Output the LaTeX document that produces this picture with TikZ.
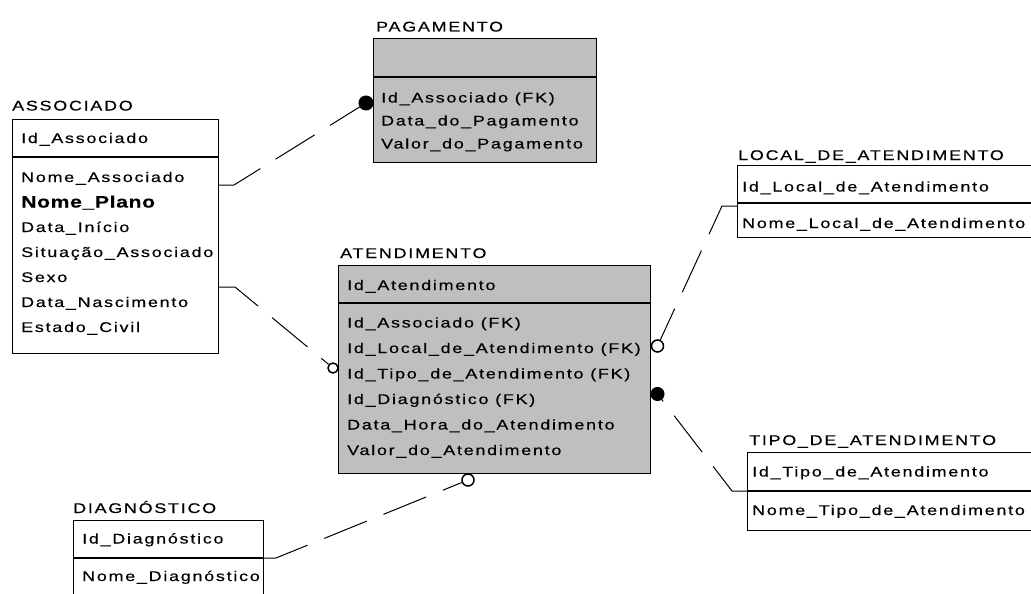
\documentclass[tikz,border=0pt]{standalone}
\usepackage{fontspec}
\setmainfont{Liberation Sans}[FakeStretch=1.28, LetterSpace=12.5, FakeBold=0.4]
\begin{document}
\begin{tikzpicture}[x=1pt, y=-1pt,
  every node/.style={font=\fontsize{14pt}{16pt}\selectfont, inner sep=0pt},
  entity/.style={draw, line width=1pt, anchor=north west},
  keyed/.style={entity, fill=black!25},
  divider/.style={line width=1.6pt},
  attr/.style={anchor=base west},
  title/.style={anchor=base west},
  rel/.style={line width=1pt, dash pattern=on 46pt off 18pt},
  opt/.style={draw, circle, line width=1.5pt, fill=white, minimum size=#1},
  mand/.style={draw, circle, line width=1pt, fill=black, minimum size=#1}
]
\useasboundingbox (0,0) rectangle (1031,594);
\clip (0,0) rectangle (1031,594);

% ASSOCIADO
\node[title] (tassoc) at (12,110.5) {ASSOCIADO};
\node[entity, minimum width=206pt, minimum height=234pt] (assoc) at (12,119) {};
\draw[divider] (assoc.west |- 0,157) -- (assoc.east |- 0,157);
\node[attr] (a0) at (21,143) {Id\_Associado};
\node[attr] (a1) at (21,182) {Nome\_Associado};
\node[attr, font=\fontsize{16.5pt}{19pt}\selectfont\bfseries\addfontfeature{LetterSpace=4}] (a2) at (21,207.5) {Nome\_Plano};
\node[attr] (a3) at (21,232) {Data\_Início};
\node[attr] (a4) at (21,257) {Situação\_Associado};
\node[attr] (a5) at (21,282) {Sexo};
\node[attr] (a6) at (21,307) {Data\_Nascimento};
\node[attr] (a7) at (21,332) {Estado\_Civil};

% PAGAMENTO
\node[title] (tpag) at (376,31.5) {PAGAMENTO};
\node[keyed, minimum width=223pt, minimum height=124pt] (pag) at (373,38) {};
\draw[divider] (pag.west |- 0,77) -- (pag.east |- 0,77);
\node[attr] (p1) at (381,102.5) {Id\_Associado (FK)};
\node[attr] (p2) at (381,125.5) {Data\_do\_Pagamento};
\node[attr] (p3) at (381,148.5) {Valor\_do\_Pagamento};

% ATENDIMENTO
\node[title] (tat) at (340,258) {ATENDIMENTO};
\node[keyed, minimum width=312pt, minimum height=208pt] (at) at (338,265) {};
\draw[divider] (at.west |- 0,303) -- (at.east |- 0,303);
\node[attr] (t0) at (347,290) {Id\_Atendimento};
\node[attr] (t1) at (347,327.5) {Id\_Associado (FK)};
\node[attr] (t2) at (347,353) {Id\_Local\_de\_Atendimento (FK)};
\node[attr] (t3) at (347,378.5) {Id\_Tipo\_de\_Atendimento (FK)};
\node[attr] (t4) at (347,404) {Id\_Diagnóstico (FK)};
\node[attr] (t5) at (347,429.5) {Data\_Hora\_do\_Atendimento};
\node[attr] (t6) at (347,455) {Valor\_do\_Atendimento};

% LOCAL_DE_ATENDIMENTO
\node[title] (tloc) at (738,160) {LOCAL\_DE\_ATENDIMENTO};
\node[entity, minimum width=310pt, minimum height=72pt] (loc) at (737,165) {};
\draw[divider] (loc.west |- 0,203) -- (loc.east |- 0,203);
\node[attr] (l0) at (742,191.5) {Id\_Local\_de\_Atendimento};
\node[attr] (l1) at (742,228) {Nome\_Local\_de\_Atendimento};

% TIPO_DE_ATENDIMENTO
\node[title] (ttipo) at (749,445) {TIPO\_DE\_ATENDIMENTO};
\node[entity, minimum width=300pt, minimum height=78pt] (tipo) at (747,452) {};
\draw[divider] (tipo.west |- 0,491) -- (tipo.east |- 0,491);
\node[attr] (s0) at (752,476.5) {Id\_Tipo\_de\_Atendimento};
\node[attr] (s1) at (752,515) {Nome\_Tipo\_de\_Atendimento};

% DIAGNÓSTICO
\node[title] (tdiag) at (73,513) {DIAGNÓSTICO};
\node[entity, minimum width=190pt, minimum height=100pt] (diag) at (73,520) {};
\draw[divider] (diag.west |- 0,558) -- (diag.east |- 0,558);
\node[attr] (d0) at (82,543.5) {Id\_Diagnóstico};
\node[attr] (d1) at (82,581) {Nome\_Diagnóstico};

% relationship ends
\node[mand=14pt] (pagend) at (366,103) {};
\node[opt=10pt] (atleft) at (333,368) {};
\node[opt=12pt] (atloc) at (657.5,346) {};
\node[mand=13pt] (attipo) at (657.5,394) {};
\node[opt=12pt] (atdiag) at (468,480) {};

% relationships
\coordinate (c1) at (assoc.east |- 0,185);
\coordinate (c2) at (assoc.east |- 0,287);
\coordinate (c3) at (loc.west |- 0,206);
\coordinate (c4) at (tipo.west |- 0,491);
\coordinate (c5) at (diag.east |- 0,558);
\draw[rel] (c1) -- ++(15,0) -- (pagend);
\draw[rel] (c2) -- ++(16,0) -- (atleft);
\draw[rel] (c3) -- ++(-15,0) -- (atloc);
\draw[rel] (c4) -- ++(-15,0) -- (attipo);
\draw[rel] (c5) -- ++(12,0) -- (atdiag);
\end{tikzpicture}
\end{document}
